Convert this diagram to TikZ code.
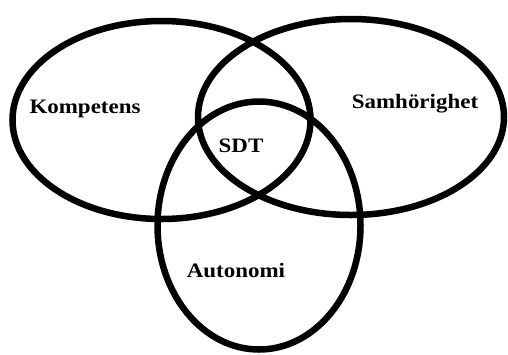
\documentclass[tikz,border=0pt]{standalone}
\usepackage{fontspec}
\setmainfont{Liberation Serif}
\begin{document}
\begin{tikzpicture}[x=1pt,y=-1pt,
  ring/.style={line width=6.5pt,draw=black},
  lbl/.style={anchor=base,inner sep=0pt,font=\bfseries\fontsize{20.5}{24}\selectfont,xscale=1.12,transform shape}]
\useasboundingbox (0,0) rectangle (508,354);
\fill[white] (0,0) rectangle (508,354);
\draw[ring] (161.5,120) ellipse [x radius=149, y radius=99];
\draw[ring] (351,117) ellipse [x radius=153, y radius=98];
\draw[ring] (259,225.5) ellipse [x radius=101.5, y radius=124];
\node[lbl] (komp) at (85,113) {Kompetens};
\node[lbl] (samh) at (415,108) {Samhörighet};
\node[lbl] (sdt) at (241,152) {SDT};
\node[lbl] (auto) at (236,277) {Autonomi};
\end{tikzpicture}
\end{document}
